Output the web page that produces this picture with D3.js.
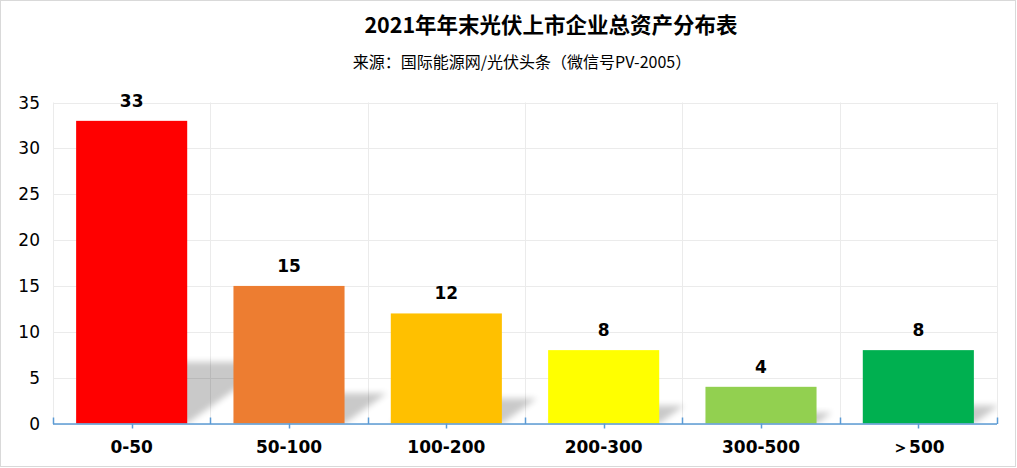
<!DOCTYPE html>
<html><head><meta charset="utf-8">
<script src="https://cdn.jsdelivr.net/npm/d3@7/dist/d3.min.js"></script>
<style>body{margin:0;background:#fff}svg{display:block}</style>
</head><body><svg id="c" width="1017" height="468"></svg>
<script>
const categories = ["0-50","50-100","100-200","200-300","300-500","＞500"];
const values = [33,15,12,8,4,8];
const colors = ["#ff0000","#ed7d31","#ffc000","#ffff00","#92d050","#00b050"];
const yTicks = [0,5,10,15,20,25,30,35];
const title = "2021年年末光伏上市企业总资产分布表";
const subtitle = "来源：国际能源网/光伏头条（微信号PV-2005）";

const svg = d3.select("#c");
const L=53, R=997, T=102.5, B=423.5;
const x = d3.scaleBand().domain(categories).range([L,R]).paddingInner(0.294).paddingOuter(0.147);
const y = d3.scaleLinear().domain([0,35]).range([B,T]);
const step = x.step();

svg.append("rect").attr("x",0.5).attr("y",0.5).attr("width",1015).attr("height",466)
  .attr("fill","#fff").attr("stroke","#d9d9d9");

const defs = svg.append("defs");
defs.append("filter").attr("id","blur").attr("x","-50%").attr("y","-50%").attr("width","200%").attr("height","200%")
  .append("feGaussianBlur").attr("stdDeviation",3);
defs.append("clipPath").attr("id","plot").append("rect").attr("x",L).attr("y",T).attr("width",R-L).attr("height",B-T);

// gridlines
svg.append("g").selectAll("line").data(yTicks).join("line")
  .attr("x1",L).attr("x2",R).attr("y1",d=>Math.round(y(d))+0.5).attr("y2",d=>Math.round(y(d))+0.5)
  .attr("stroke","#ebebeb");
const bounds = d3.range(categories.length+1).map(i=>L+i*step);
svg.append("g").selectAll("line").data(bounds).join("line")
  .attr("x1",d=>Math.round(d)+0.5).attr("x2",d=>Math.round(d)+0.5).attr("y1",T).attr("y2",B)
  .attr("stroke","#ebebeb");

// shadows
const sg = svg.append("g").attr("clip-path","url(#plot)");
sg.selectAll("path").data(values).join("path")
  .attr("d",(d,i)=>{
    const x0=x(categories[i]), x1=x0+x.bandwidth();
    const h=B-y(d); const H=0.19*h+4; const sh=1.4*H;
    return `M${x0},${B}L${x1},${B}L${x1+sh},${B-H}L${x0+sh},${B-H}Z`;
  })
  .attr("fill","#000").attr("opacity",0.21).attr("filter","url(#blur)");

// bars
svg.append("g").selectAll("rect").data(values).join("rect")
  .attr("x",(d,i)=>x(categories[i])).attr("width",x.bandwidth())
  .attr("y",d=>y(d)).attr("height",d=>B-y(d))
  .attr("fill",(d,i)=>colors[i]);

// value labels
svg.append("g").selectAll("text").data(values).join("text")
  .attr("x",(d,i)=>x(categories[i])+x.bandwidth()/2).attr("y",d=>y(d)-14)
  .attr("text-anchor","middle").attr("font-family","DejaVu Sans").attr("font-weight","bold")
  .attr("font-size",17).attr("fill","#000").text(d=>d);

// x axis
svg.append("line").attr("x1",L).attr("x2",R).attr("y1",B+0.5).attr("y2",B+0.5).attr("stroke","#5b9bd5").attr("stroke-width",1.5);
svg.append("g").selectAll("line").data(bounds).join("line")
  .attr("x1",d=>Math.round(d)+0.5).attr("x2",d=>Math.round(d)+0.5).attr("y1",B-6).attr("y2",B+0.5)
  .attr("stroke","#5b9bd5").attr("stroke-width",1.5);
svg.append("g").selectAll("line").data(categories).join("line")
  .attr("x1",d=>Math.round(x(d)+x.bandwidth()/2)+0.5).attr("x2",d=>Math.round(x(d)+x.bandwidth()/2)+0.5)
  .attr("y1",B).attr("y2",B+5).attr("stroke","#5b9bd5").attr("stroke-width",1.5);
svg.append("g").selectAll("text").data(categories).join("text")
  .attr("x",d=>x(d)+x.bandwidth()/2).attr("y",453)
  .attr("text-anchor","middle").attr("font-family","DejaVu Sans").attr("font-weight","bold")
  .attr("font-size",17).attr("fill","#000").text(d=>d);

// y labels
svg.append("g").selectAll("text").data(yTicks).join("text")
  .attr("x",40).attr("y",d=>y(d)).attr("dy","0.36em")
  .attr("text-anchor","end").attr("font-family","DejaVu Sans")
  .attr("font-size",17).attr("fill","#000").text(d=>d);

// titles
svg.append("text").attr("x",551).attr("y",33).attr("text-anchor","middle")
  .attr("font-family","Noto Sans CJK SC").attr("font-weight","bold").attr("font-size",21.5)
  .attr("fill","#000").text(title);
svg.append("text").attr("x",522).attr("y",68).attr("text-anchor","middle")
  .attr("font-family","Noto Sans CJK SC").attr("font-size",16)
  .attr("fill","#000").text(subtitle);
</script></body></html>
